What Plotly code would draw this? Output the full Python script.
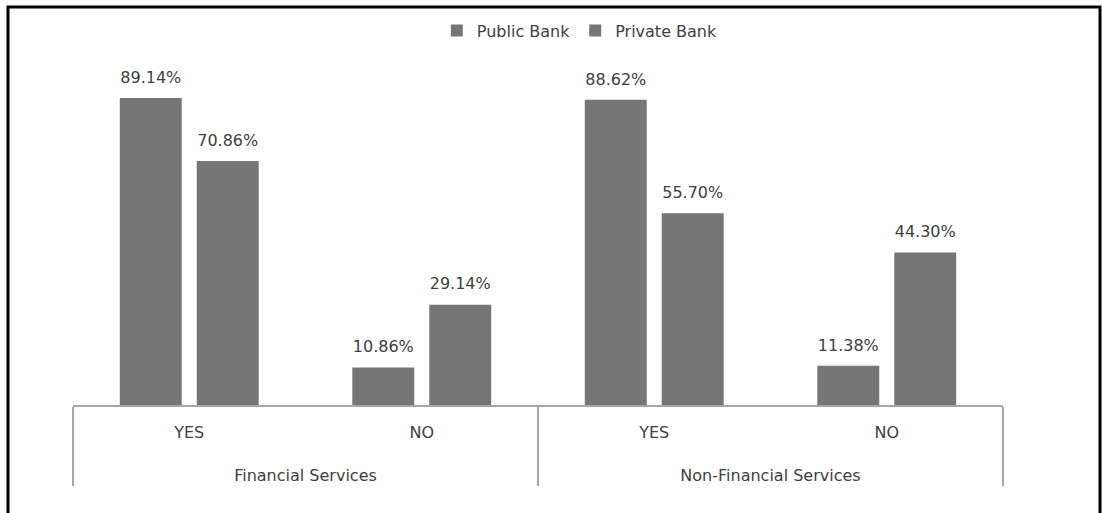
import plotly.graph_objects as go

# Survey results: share of respondents by service type and answer
service_groups = ["Financial Services", "Financial Services",
                  "Non-Financial Services", "Non-Financial Services"]
answers = ["YES", "NO", "YES", "NO"]
public_bank = [89.14, 10.86, 88.62, 11.38]
private_bank = [70.86, 29.14, 55.70, 44.30]

BAR_COLOR = "#767676"
TEXT_COLOR = "#404040"
AXIS_COLOR = "#a6a6a6"
FONT = "DejaVu Sans"
FS = 16
LABEL_LIFT = 2.4  # extra room (in y units) between a bar top and its value label

# a tall blank second line in the inner labels pushes the outer group labels down
answer_labels = [a + "<br><span style='font-size:45px'>\u00a0</span>" for a in answers]

fig = go.Figure()
for name, vals in [("Public Bank", public_bank), ("Private Bank", private_bank)]:
    fig.add_trace(go.Bar(
        name=name,
        x=[service_groups, answer_labels],
        y=vals,
        offsetgroup=name,
        marker=dict(color=BAR_COLOR, line=dict(width=0)),
        hovertemplate="%{y:.2f}%<extra>" + name + "</extra>",
    ))
    # transparent spacer on top of each bar carrying the value label
    fig.add_trace(go.Bar(
        x=[service_groups, answer_labels],
        y=[LABEL_LIFT] * len(vals),
        base=vals,
        offsetgroup=name,
        customdata=vals,
        marker=dict(color="rgba(0,0,0,0)", line=dict(width=0)),
        texttemplate="%{customdata:.2f}%",
        textposition="outside",
        textfont=dict(family=FONT, size=FS, color=TEXT_COLOR),
        cliponaxis=False,
        showlegend=False,
        hoverinfo="skip",
    ))

fig.update_layout(
    width=1102, height=513,
    margin=dict(l=73, r=99, t=50, b=108),
    paper_bgcolor="white", plot_bgcolor="white",
    barmode="group", bargap=0.338, bargroupgap=0.195,
    font=dict(family=FONT, size=FS, color=TEXT_COLOR),
    showlegend=True,
    legend=dict(orientation="h", x=0.545, xanchor="center", y=1.055, yanchor="middle",
                font=dict(family=FONT, size=FS, color=TEXT_COLOR),
                traceorder="normal"),
    xaxis=dict(
        type="multicategory",
        showline=True, linecolor=AXIS_COLOR, linewidth=2,
        showdividers=True, dividercolor=AXIS_COLOR, dividerwidth=2,
        ticks="", showgrid=False, ticklabelstandoff=12,
        tickfont=dict(family=FONT, size=FS, color=TEXT_COLOR),
    ),
    yaxis=dict(range=[0, 103.1], visible=False, showgrid=False, zeroline=False),
    shapes=[dict(type="rect", xref="paper", yref="paper",
                 x0=-0.0699, x1=1.1043, y0=-0.4, y1=1.1211,
                 line=dict(color="black", width=3), fillcolor="rgba(0,0,0,0)",
                 layer="above")],
)

fig.write_html("out.html")
